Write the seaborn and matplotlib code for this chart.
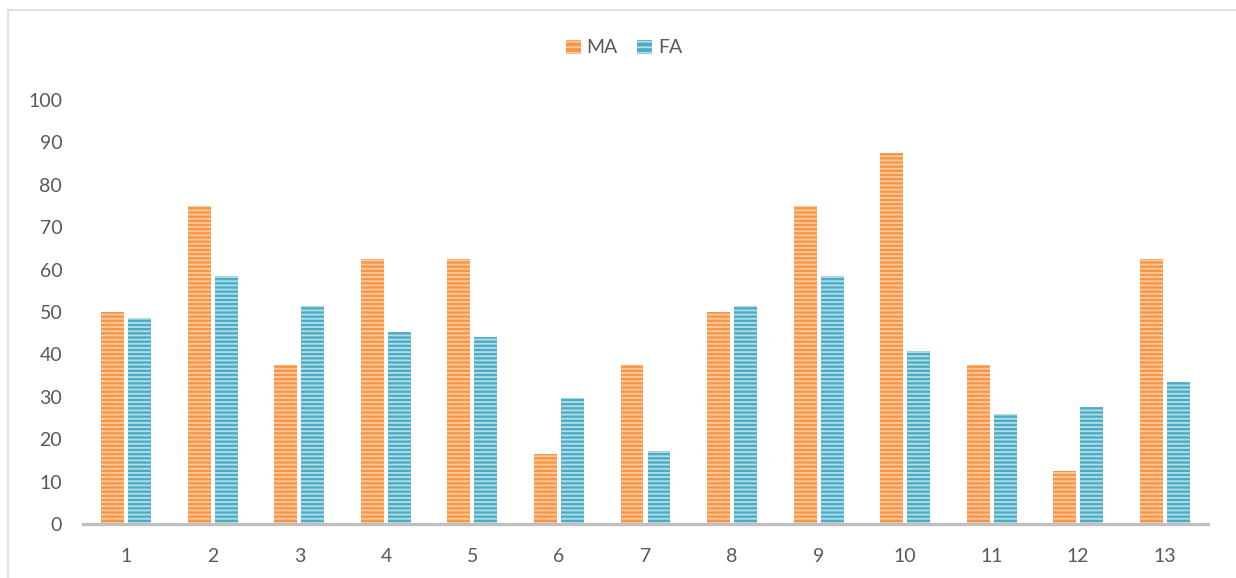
import matplotlib
matplotlib.use("Agg")
import matplotlib.pyplot as plt
import seaborn as sns
import pandas as pd
from matplotlib.patches import Patch
from matplotlib.lines import Line2D

categories = [str(i) for i in range(1, 14)]
ma_values = [50, 75, 37.5, 62.5, 62.5, 16.5, 37.5, 50, 75, 87.5, 37.5, 12.5, 62.5]
fa_values = [48.5, 58.6, 51.3, 45.4, 44, 29.8, 17.3, 51.3, 58.6, 40.9, 26, 27.7, 33.6]
series_names = ["MA", "FA"]
y_ticks = [0, 10, 20, 30, 40, 50, 60, 70, 80, 90, 100]

main_colors = {"MA": "#F79646", "FA": "#4BACC6"}
stripe_colors = {"MA": "#FBC89C", "FA": "#B4DDE8"}

df = pd.DataFrame({
    "cat": categories * 2,
    "series": [series_names[0]] * len(categories) + [series_names[1]] * len(categories),
    "value": ma_values + fa_values,
})

sns.set_theme(style="white")
plt.rcParams["font.family"] = ["Lato", "DejaVu Sans"]
plt.rcParams["hatch.linewidth"] = 1.3

fig = plt.figure(figsize=(12.36, 5.78), dpi=100)
ax = fig.add_axes([0.0672, 0.0934, 0.9101, 0.7336])

sns.barplot(data=df, x="cat", y="value", hue="series", order=categories,
            hue_order=series_names, palette=main_colors, width=0.624, gap=0.15,
            ax=ax, legend=False, saturation=1)

n = len(categories)
for i, patch in enumerate(ax.patches):
    s = series_names[i // n] if i < 2 * n else None
    if s is None:
        continue
    patch.set_hatch("----")
    patch.set_edgecolor(stripe_colors[s])
    patch.set_linewidth(0)

ax.set_ylim(0, 100)
ax.set_xlim(-0.5, n - 0.5)
ax.set_yticks(y_ticks)
ax.set_xlabel("")
ax.set_ylabel("")
for sp in ["top", "right", "left"]:
    ax.spines[sp].set_visible(False)
ax.spines["bottom"].set_color("#BFBFBF")
ax.spines["bottom"].set_linewidth(2.4)
ax.tick_params(axis="y", length=0, pad=15, labelsize=14, labelcolor="#595959")
ax.tick_params(axis="x", length=0, pad=17, labelsize=14, labelcolor="#595959")

handles = [Patch(facecolor=main_colors[s], edgecolor=stripe_colors[s], hatch="---", linewidth=0)
           for s in series_names]
fig.legend(handles, series_names, loc="center", bbox_to_anchor=(0.505, 0.917), ncol=2,
           frameon=False, fontsize=14, handlelength=0.75, handleheight=0.75,
           handletextpad=0.3, columnspacing=1.0, labelcolor="#595959")

# outer chart frame (top and left edges visible)
fig.add_artist(Line2D([0.0065, 1.0], [0.982, 0.982], transform=fig.transFigure,
                      color="#D9D9D9", linewidth=1.2))
fig.add_artist(Line2D([0.0065, 0.0065], [0.0, 0.982], transform=fig.transFigure,
                      color="#D9D9D9", linewidth=1.2))

fig.savefig("out.png", dpi=100)
